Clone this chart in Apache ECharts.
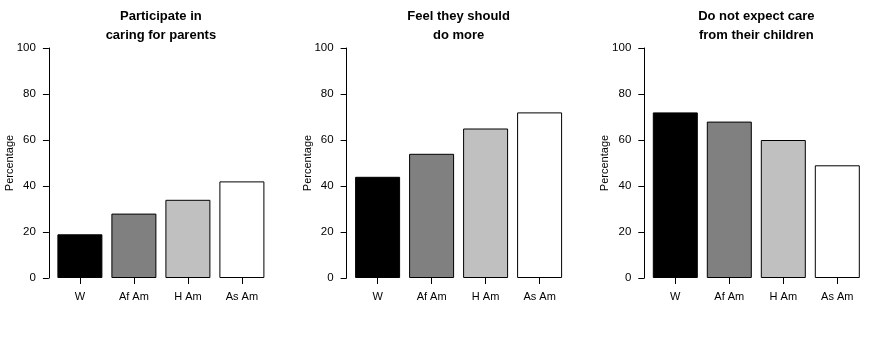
<!DOCTYPE html>
<html>
<head>
<meta charset="utf-8">
<script src="https://cdn.jsdelivr.net/npm/echarts@6/dist/echarts.min.js"></script>
<style>
html,body{margin:0;padding:0;background:#fff;}
#chart{width:893px;height:339px;}
</style>
</head>
<body>
<div id="chart"></div>
<script>
var categories = ['W', 'Af Am', 'H Am', 'As Am'];
var barColors = ['#000000', '#808080', '#c0c0c0', '#ffffff'];
var yTicks = [0, 20, 40, 60, 80, 100];
var panelTitles = ['Participate in\ncaring for parents', 'Feel they should\ndo more', 'Do not expect care\nfrom their children'];
var participateValues = [19, 28, 34, 42];
var shouldDoMoreValues = [44, 54, 65, 72];
var notExpectCareValues = [72, 68, 60, 49];
var yAxisName = 'Percentage';

var panelValues = [participateValues, shouldDoMoreValues, notExpectCareValues];
var gridLefts = [52.9, 350.6, 648.3];
var font = 'Liberation Sans, Arial, sans-serif';

var option = {
  backgroundColor: '#ffffff',
  animation: false,
  title: [],
  grid: [],
  xAxis: [],
  yAxis: [],
  series: []
};

panelValues.forEach(function (vals, i) {
  option.title.push({
    text: panelTitles[i],
    left: gridLefts[i] - 4 + 112,
    top: 7.5,
    padding: 0,
    textAlign: 'center',
    textStyle: { fontFamily: font, fontSize: 13, fontWeight: 'bold', color: '#000', lineHeight: 18.5 }
  });
  option.grid.push({ left: gridLefts[i], top: 48, width: 216, height: 230, containLabel: false });
  option.xAxis.push({
    type: 'category',
    gridIndex: i,
    data: categories,
    boundaryGap: true,
    axisLine: { show: false },
    axisTick: { show: true, alignWithLabel: true, length: 6, lineStyle: { color: '#000', width: 1 } },
    axisLabel: { color: '#000', fontFamily: font, fontSize: 11, margin: 13 },
    splitLine: { show: false }
  });
  option.yAxis.push({
    type: 'value',
    gridIndex: i,
    min: 0,
    max: 100,
    interval: 20,
    offset: 4,
    name: yAxisName,
    nameLocation: 'middle',
    nameGap: 33.5,
    nameMoveOverlap: false,
    nameTextStyle: { color: '#000', fontFamily: font, fontSize: 11 },
    axisLine: { show: true, lineStyle: { color: '#000', width: 1 } },
    axisTick: { show: true, length: 6, lineStyle: { color: '#000', width: 1 } },
    axisLabel: { color: '#000', fontFamily: font, fontSize: 11.5, margin: 13 },
    splitLine: { show: false }
  });
  option.series.push({
    type: 'bar',
    xAxisIndex: i,
    yAxisIndex: i,
    barWidth: 45,
    data: vals.map(function (v, k) {
      return { value: v, itemStyle: { color: barColors[k] } };
    }),
    itemStyle: { borderColor: '#000', borderWidth: 1 }
  });
});

var chart = echarts.init(document.getElementById('chart'), null, { renderer: 'canvas' });
chart.setOption(option);
</script>
</body>
</html>
